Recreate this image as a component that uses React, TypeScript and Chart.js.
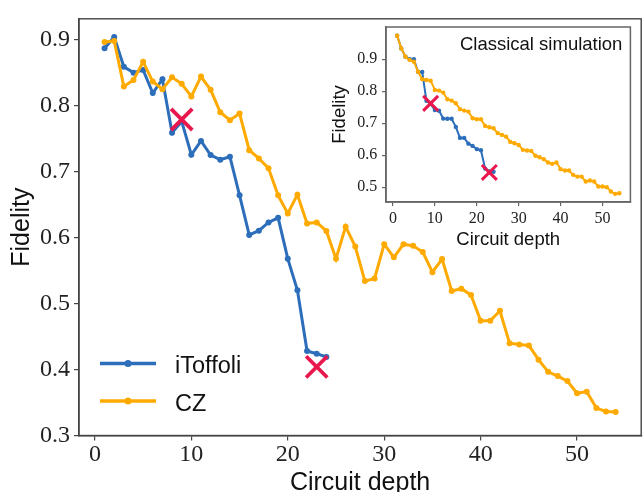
import React, { useEffect, useRef } from 'react';
import { Chart, registerables } from 'chart.js';

Chart.register(...registerables);

// ---------- data ----------
const depthCZ = [1, 2, 3, 4, 5, 6, 7, 8, 9, 10, 11, 12, 13, 14, 15, 16, 17, 18, 19, 20, 21, 22, 23, 24, 25, 26, 27, 28, 29, 30, 31, 32, 33, 34, 35, 36, 37, 38, 39, 40, 41, 42, 43, 44, 45, 46, 47, 48, 49, 50, 51, 52, 53, 54];
const depthIToffoli = [1, 2, 3, 4, 5, 6, 7, 8, 9, 10, 11, 12, 13, 14, 15, 16, 17, 18, 19, 20, 21, 22, 23, 24];

const iToffoliMain = [0.887, 0.904, 0.859, 0.85, 0.854, 0.819, 0.84, 0.759, 0.776, 0.7255, 0.7465, 0.725, 0.718, 0.7225, 0.664, 0.604, 0.6105, 0.623, 0.63, 0.568, 0.52, 0.428, 0.424, 0.419];
const czMain = [0.8965, 0.898, 0.829, 0.839, 0.8665, 0.8365, 0.825, 0.843, 0.833, 0.814, 0.844, 0.824, 0.79, 0.778, 0.788, 0.7325, 0.72, 0.705, 0.664, 0.6365, 0.665, 0.6215, 0.623, 0.61, 0.568, 0.6165, 0.5865, 0.534, 0.538, 0.59, 0.57, 0.59, 0.5875, 0.578, 0.5475, 0.5675, 0.519, 0.5225, 0.513, 0.474, 0.474, 0.489, 0.44, 0.438, 0.4365, 0.415, 0.3965, 0.39, 0.3825, 0.364, 0.3665, 0.3415, 0.3365, 0.3355];

const iToffoliInset = [0.974, 0.934, 0.908, 0.9, 0.9, 0.861, 0.86, 0.77, 0.76, 0.741, 0.739, 0.7145, 0.714, 0.714, 0.6885, 0.654, 0.654, 0.636, 0.629, 0.619, 0.6156, 0.558, 0.549, 0.548];
const czInset = [0.974, 0.934, 0.908, 0.898, 0.8925, 0.861, 0.8375, 0.835, 0.833, 0.804, 0.802, 0.7957, 0.775, 0.7707, 0.7625, 0.744, 0.7395, 0.7363, 0.7156, 0.7125, 0.7125, 0.6916, 0.6875, 0.684, 0.669, 0.6634, 0.658, 0.6416, 0.6375, 0.632, 0.6166, 0.6144, 0.6134, 0.598, 0.5937, 0.5875, 0.577, 0.5728, 0.577, 0.5563, 0.552, 0.552, 0.5384, 0.533, 0.533, 0.5175, 0.5206, 0.5175, 0.502, 0.502, 0.5, 0.4863, 0.479, 0.481];

const failDepths = [9, 23];
const failMain = [0.779, 0.404];
const failInset = [0.762, 0.546];

const xTickValues = [0, 10, 20, 30, 40, 50];
const yTicksMain = [0.3, 0.4, 0.5, 0.6, 0.7, 0.8, 0.9];
const yTicksInset = [0.5, 0.6, 0.7, 0.8, 0.9];

const seriesLabels = ['iToffoli', 'CZ'];
const insetLabel = 'Classical simulation';
const xTitle = 'Circuit depth';
const yTitle = 'Fidelity';

// ---------- styles ----------
const BLUE = '#2C6EBA';
const ORANGE = '#FFAA00';
const RED = '#E8174D';
const SERIF = '"Liberation Serif", "DejaVu Serif", serif';
const SANS = '"Liberation Sans", Arial, sans-serif';

const pts = (xs: number[], ys: number[]) => xs.map((x, i) => ({ x, y: ys[i] }));

function framePlugin(color: string, width: number, fillWhite: boolean) {
  return {
    id: 'frame' + (fillWhite ? 'Inset' : 'Main'),
    beforeDraw(chart: any) {
      if (!fillWhite) return;
      const { ctx, chartArea: a } = chart;
      ctx.save();
      ctx.fillStyle = '#ffffff';
      ctx.fillRect(a.left, a.top, a.right - a.left, a.bottom - a.top);
      ctx.restore();
    },
    afterDraw(chart: any) {
      const { ctx, chartArea: a } = chart;
      ctx.save();
      ctx.strokeStyle = color;
      ctx.lineWidth = width;
      ctx.strokeRect(a.left, a.top, a.right - a.left, a.bottom - a.top);
      ctx.restore();
    },
  };
}

const legendPlugin = {
  id: 'customLegend',
  afterDraw(chart: any) {
    const { ctx, chartArea: a } = chart;
    const colors = [BLUE, ORANGE];
    ctx.save();
    seriesLabels.forEach((label, i) => {
      const y = a.bottom - 72 + i * 37.5;
      const x0 = a.left + 21;
      const x1 = x0 + 56;
      ctx.strokeStyle = colors[i];
      ctx.lineWidth = 3.5;
      ctx.beginPath();
      ctx.moveTo(x0, y);
      ctx.lineTo(x1, y);
      ctx.stroke();
      ctx.fillStyle = colors[i];
      ctx.beginPath();
      ctx.arc((x0 + x1) / 2, y, 3.5, 0, Math.PI * 2);
      ctx.fill();
      ctx.fillStyle = '#111';
      ctx.font = `23.5px ${SANS}`;
      ctx.textAlign = 'left';
      ctx.textBaseline = 'alphabetic';
      ctx.fillText(label, x1 + 19, y + 9.5);
    });
    ctx.restore();
  },
};

const insetTextPlugin = {
  id: 'insetText',
  afterDraw(chart: any) {
    const { ctx, chartArea: a } = chart;
    ctx.save();
    ctx.fillStyle = '#111';
    ctx.font = `18.5px ${SANS}`;
    ctx.textAlign = 'right';
    ctx.textBaseline = 'alphabetic';
    ctx.fillText(insetLabel, a.right - 8, a.top + 23);
    ctx.restore();
  },
};

function buildOptions(p: {
  xMin: number; xMax: number; yMin: number; yMax: number; yTicks: number[];
  yWidth: number; xHeight: number; tickFont: number; titleFont: number;
  tickLen: number; yPad: number; xPad: number; yTitlePad: number; xTitlePad: number;
  spine: string; spineW: number; layout: any;
}) {
  return {
    responsive: false,
    animation: false as const,
    events: [] as any[],
    layout: { padding: p.layout },
    plugins: { legend: { display: false }, tooltip: { enabled: false } },
    scales: {
      x: {
        type: 'linear' as const,
        min: p.xMin,
        max: p.xMax,
        afterBuildTicks: (s: any) => { s.ticks = xTickValues.map((v) => ({ value: v })); },
        afterFit: (s: any) => { s.height = p.xHeight; },
        grid: { drawOnChartArea: false, drawTicks: true, tickLength: p.tickLen, color: p.spine, lineWidth: 1.2 },
        border: { display: true, color: p.spine, width: p.spineW },
        ticks: {
          font: { family: SERIF, size: p.tickFont, lineHeight: 1.2 },
          color: '#222', padding: p.xPad, maxRotation: 0, autoSkip: false,
          callback: (v: any) => String(v),
        },
        title: {
          display: true, text: xTitle, color: '#111',
          font: { family: SANS, size: p.titleFont, lineHeight: 1 },
          padding: { top: 0, bottom: p.xTitlePad },
        },
      },
      y: {
        type: 'linear' as const,
        min: p.yMin,
        max: p.yMax,
        afterBuildTicks: (s: any) => { s.ticks = p.yTicks.map((v) => ({ value: v })); },
        afterFit: (s: any) => { s.width = p.yWidth; },
        grid: { drawOnChartArea: false, drawTicks: true, tickLength: p.tickLen, color: p.spine, lineWidth: 1.2 },
        border: { display: true, color: p.spine, width: p.spineW },
        ticks: {
          font: { family: SERIF, size: p.tickFont, lineHeight: 1.2 },
          color: '#222', padding: p.yPad, autoSkip: false,
          callback: (v: any) => Number(v).toFixed(1),
        },
        title: {
          display: true, text: yTitle, color: '#111',
          font: { family: SANS, size: p.titleFont, lineHeight: 1 },
          padding: { top: p.yTitlePad, bottom: 0 },
        },
      },
    },
  };
}

export default function App() {
  const mainRef = useRef<HTMLCanvasElement | null>(null);
  const insetRef = useRef<HTMLCanvasElement | null>(null);

  useEffect(() => {
    if (!mainRef.current || !insetRef.current) return;

    const main = new Chart(mainRef.current, {
      type: 'line',
      data: {
        datasets: [
          {
            label: 'fail',
            data: pts(failDepths, failMain),
            showLine: false,
            pointStyle: 'crossRot',
            pointRadius: 15,
            pointBorderWidth: 3.8,
            borderColor: RED,
            backgroundColor: RED,
            order: 1,
          },
          {
            label: seriesLabels[1],
            data: pts(depthCZ, czMain),
            borderColor: ORANGE,
            backgroundColor: ORANGE,
            borderWidth: 3,
            pointRadius: 3,
            pointBorderWidth: 0,
            tension: 0,
            order: 2,
          },
          {
            label: seriesLabels[0],
            data: pts(depthIToffoli, iToffoliMain),
            borderColor: BLUE,
            backgroundColor: BLUE,
            borderWidth: 3,
            pointRadius: 3,
            pointBorderWidth: 0,
            tension: 0,
            order: 3,
          },
        ],
      },
      options: buildOptions({
        xMin: -1.65, xMax: 56.65, yMin: 0.3, yMax: 0.9316, yTicks: yTicksMain,
        yWidth: 79, xHeight: 56.5, tickFont: 24, titleFont: 25, tickLen: 5,
        yPad: 4, xPad: 0, yTitlePad: 9.5, xTitlePad: -3.5,
        spine: '#444', spineW: 1.4,
        layout: { left: 0, top: 15, right: 13, bottom: 0 },
      }) as any,
      plugins: [framePlugin('#444', 1.4, false), legendPlugin],
    });

    const inset = new Chart(insetRef.current, {
      type: 'line',
      data: {
        datasets: [
          {
            label: 'fail',
            data: pts(failDepths, failInset),
            showLine: false,
            pointStyle: 'crossRot',
            pointRadius: 10.6,
            pointBorderWidth: 3,
            borderColor: RED,
            backgroundColor: RED,
            order: 1,
          },
          {
            label: seriesLabels[1],
            data: pts(depthCZ, czInset),
            borderColor: ORANGE,
            backgroundColor: ORANGE,
            borderWidth: 2,
            pointRadius: 2.2,
            pointBorderWidth: 0,
            tension: 0,
            order: 2,
          },
          {
            label: seriesLabels[0],
            data: pts(depthIToffoli, iToffoliInset),
            borderColor: BLUE,
            backgroundColor: BLUE,
            borderWidth: 2,
            pointRadius: 2.2,
            pointBorderWidth: 0,
            tension: 0,
            order: 3,
          },
        ],
      },
      options: buildOptions({
        xMin: -1.65, xMax: 56.65, yMin: 0.4535, yMax: 1.001, yTicks: yTicksInset,
        yWidth: 66, xHeight: 58, tickFont: 16, titleFont: 18.5, tickLen: 4,
        yPad: 4.7, xPad: 3.2, yTitlePad: 10.75, xTitlePad: 10.75,
        spine: '#666', spineW: 1.5,
        layout: { left: 0, top: 27, right: 10.7, bottom: 0 },
      }) as any,
      plugins: [framePlugin('#666', 1.5, true), insetTextPlugin],
    });

    return () => {
      main.destroy();
      inset.destroy();
    };
  }, []);

  return (
    <div style={{ position: 'fixed', left: 0, top: 0, width: 644, height: 492, overflow: 'hidden', background: '#fff' }}>
      <canvas ref={mainRef} width={660} height={492} style={{ position: 'absolute', left: 0, top: 0 }} />
      <canvas ref={insetRef} width={324} height={260} style={{ position: 'absolute', left: 320, top: 0 }} />
    </div>
  );
}
